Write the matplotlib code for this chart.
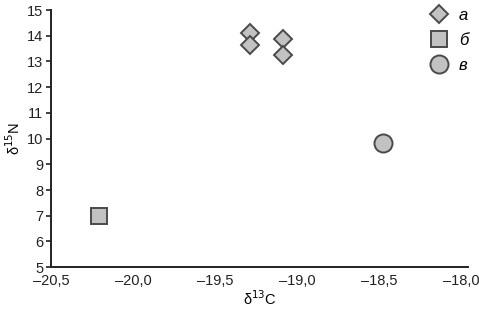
import matplotlib.pyplot as plt
from matplotlib.ticker import FuncFormatter

# isotope values
a_c13 = [-19.29, -19.29, -19.09, -19.09]
a_n15 = [14.12, 13.63, 13.88, 13.27]
b_c13 = [-20.21]
b_n15 = [6.98]
v_c13 = [-18.48]
v_n15 = [9.82]

plt.rcParams['font.family'] = ['Liberation Sans', 'DejaVu Sans']

fig = plt.figure(figsize=(4.79, 3.15), dpi=100)
ax = fig.add_axes([0.1065, 0.152, 0.8706, 0.816])

face = '#c2c2c2'
edge = '#4a4a4a'
ax.plot(a_c13, a_n15, 'D', ms=9, mfc=face, mec=edge, mew=1.4, ls='none', label='а')
ax.plot(b_c13, b_n15, 's', ms=11.5, mfc=face, mec=edge, mew=1.4, ls='none', label='б')
ax.plot(v_c13, v_n15, 'o', ms=13, mfc=face, mec=edge, mew=1.4, ls='none', label='в')

ax.set_xlim(-20.5, -17.96)
ax.set_ylim(5, 15)
ax.set_xticks([-20.5, -20.0, -19.5, -19.0, -18.5, -18.0])
ax.set_yticks(range(5, 16))

fmt = lambda v, p: ('–' if v < 0 else '') + f'{abs(v):.1f}'.replace('.', ',')
ax.xaxis.set_major_formatter(FuncFormatter(fmt))

for s in ['top', 'right']:
    ax.spines[s].set_visible(False)
for s in ['left', 'bottom']:
    ax.spines[s].set_linewidth(1.4)
    ax.spines[s].set_color('#222222')

ax.tick_params(axis='x', length=0, labelsize=10.5, pad=5, colors='#222222')
ax.tick_params(axis='y', length=3.5, width=1.2, labelsize=10.5, pad=2, colors='#222222')

ax.set_xlabel('δ$^{13}$C', fontsize=10.5, labelpad=1)
ax.set_ylabel('δ$^{15}$N', fontsize=10.5, labelpad=3)

leg = ax.legend(loc='upper right', bbox_to_anchor=(0.985, 0.985), bbox_transform=fig.transFigure,
                frameon=False, fontsize=12, handletextpad=0.6,
                labelspacing=0.6, borderaxespad=0, handlelength=1.2,
                borderpad=0.2)
for t in leg.get_texts():
    t.set_style('italic')

fig.savefig('out.png', dpi=100)
